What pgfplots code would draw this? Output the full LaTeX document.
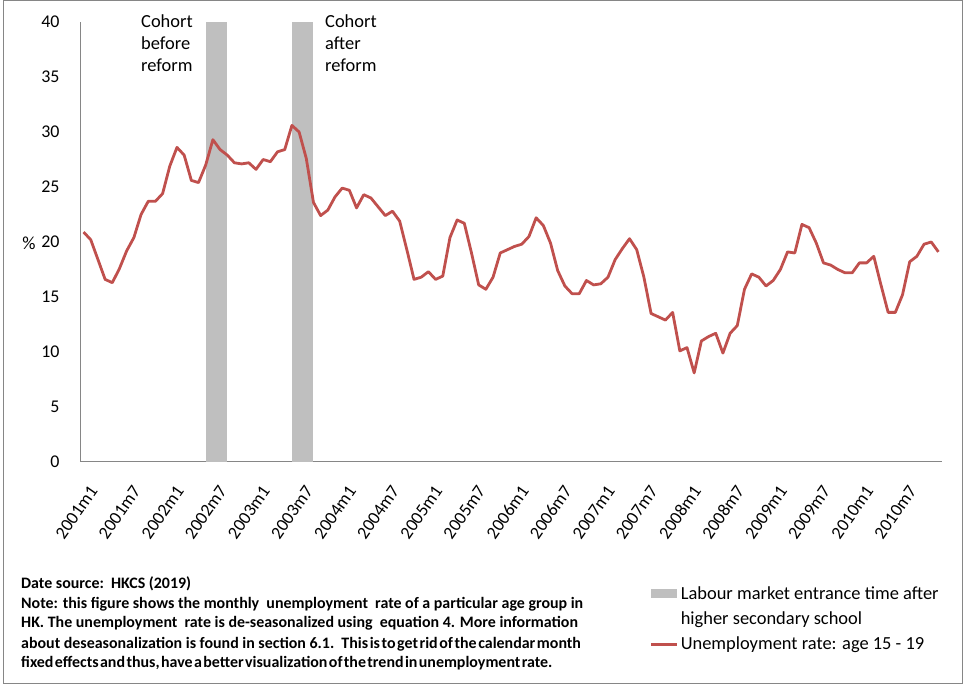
\documentclass[border=0pt]{standalone}
\usepackage{fontspec}
\setmainfont{Carlito}
\usepackage{pgfplots}
\usepackage{pgfplotstable}
\pgfplotsset{compat=1.18}
\definecolor{lineRed}{HTML}{C0504D}
\definecolor{barGray}{HTML}{BFBFBF}
\definecolor{axisGray}{HTML}{868686}
\pgfplotstableread{
i v
0 20.9
1 20.2
2 18.4
3 16.6
4 16.3
5 17.6
6 19.2
7 20.4
8 22.5
9 23.7
10 23.7
11 24.4
12 26.9
13 28.6
14 27.9
15 25.6
16 25.4
17 27.0
18 29.3
19 28.4
20 27.9
21 27.2
22 27.1
23 27.2
24 26.6
25 27.5
26 27.3
27 28.2
28 28.4
29 30.6
30 30.0
31 27.6
32 23.6
33 22.4
34 22.9
35 24.1
36 24.9
37 24.7
38 23.1
39 24.3
40 24.0
41 23.2
42 22.4
43 22.8
44 21.9
45 19.3
46 16.6
47 16.8
48 17.3
49 16.6
50 16.9
51 20.4
52 22.0
53 21.7
54 19.0
55 16.1
56 15.7
57 16.8
58 19.0
59 19.3
60 19.6
61 19.8
62 20.5
63 22.2
64 21.5
65 19.9
66 17.4
67 16.0
68 15.3
69 15.3
70 16.5
71 16.1
72 16.2
73 16.8
74 18.4
75 19.4
76 20.3
77 19.3
78 16.8
79 13.5
80 13.2
81 12.9
82 13.6
83 10.1
84 10.4
85 8.1
86 11.0
87 11.4
88 11.7
89 9.9
90 11.7
91 12.4
92 15.7
93 17.1
94 16.8
95 16.0
96 16.5
97 17.5
98 19.1
99 19.0
100 21.6
101 21.3
102 19.9
103 18.1
104 17.9
105 17.5
106 17.2
107 17.2
108 18.1
109 18.1
110 18.7
111 16.1
112 13.6
113 13.6
114 15.2
115 18.2
116 18.7
117 19.8
118 20.0
119 19.1
}\data
\begin{document}
\begin{tikzpicture}[x=1bp,y=1bp]
\useasboundingbox (0,0) rectangle (966,684);
\draw[axisGray, line width=1bp] (3.5,0.5) rectangle (962.5,683.5);
\begin{axis}[
  at={(80bp,222bp)}, anchor=south west,
  scale only axis, width=862bp, height=440bp,
  xmin=-0.5, xmax=119.5, ymin=0, ymax=40,
  axis lines*=left,
  axis line style={draw=axisGray, line width=1bp, -},
  major tick length=0pt,
  xtick={0,6,...,114},
  xticklabels={2001m1,2001m7,2002m1,2002m7,2003m1,2003m7,2004m1,2004m7,2005m1,2005m7,2006m1,2006m7,2007m1,2007m7,2008m1,2008m7,2009m1,2009m7,2010m1,2010m7},
  ytick={0,5,...,40},
  /pgf/number format/assume math mode=true,
  tick label style={font=\fontsize{18}{20}\selectfont, text=black},
  yticklabel style={anchor=east, xshift=-17bp},
  xticklabel style={xshift=12bp, yshift=-23bp, rotate=55, anchor=east},
  clip=false,
  legend cell align=left,
  legend style={at={(0.661,-0.278)}, anchor=north west, draw=none, fill=none,
    inner sep=0pt, row sep=7bp, font=\fontsize{18.5}{22}\selectfont,
    nodes={inner sep=2bp}},
]
\addplot[fill=barGray, draw=none,
  legend image code/.code={\fill[barGray] (0bp,-4.5bp) rectangle (26bp,4.5bp);}]
  coordinates {(17,0) (17,40) (19.9,40) (19.9,0)};
\addlegendentry{Labour market entrance time after}
\addplot[fill=barGray, draw=none, forget plot]
  coordinates {(29,0) (29,40) (31.9,40) (31.9,0)};
\addlegendimage{empty legend}
\addlegendentry{higher secondary school}
\addplot[lineRed, line width=2.8bp, line join=round,
  legend image code/.code={\draw[lineRed, line width=2.8bp] (0bp,0bp) -- (26bp,0bp);}]
  table[x=i, y=v] {\data};
\addlegendentry{Unemployment rate: age 15 - 19}
\end{axis}
\begin{scope}[every node/.style={inner sep=0pt, font=\fontsize{18.5}{22}\selectfont}]
\node[anchor=base west] at (141,656) {Cohort};
\node[anchor=base west] at (141,634) {before};
\node[anchor=base west] at (141,612) {reform};
\node[anchor=base west] at (325,656) {Cohort};
\node[anchor=base west] at (325,634) {after};
\node[anchor=base west] at (325,612) {reform};
\node[anchor=center] at (29,441) {\%};
\end{scope}
\begin{scope}[every node/.style={inner sep=0pt, anchor=base west, font=\bfseries\fontsize{16}{18}\selectfont}]
\node at (21,95.3) {Date source:\ \ HKCS (2019)};
\node at (21,75.3) {Note: this figure shows the monthly\ \ unemployment\ \ rate of a particular age group in};
\node at (21,56.3) {HK. The unemployment\ \ rate is de-seasonalized using\ \ equation 4. More information};
\node at (21,35.7) {about deseasonalization is found in section 6.1.\ \ {\spaceskip=1.6bp This is to get rid of the calendar month}};
\node at (21,16.5) {{\spaceskip=1.4bp fixed effects and thus, have a better visualization of the trend in unemployment rate.}};
\end{scope}
\end{tikzpicture}
\end{document}
